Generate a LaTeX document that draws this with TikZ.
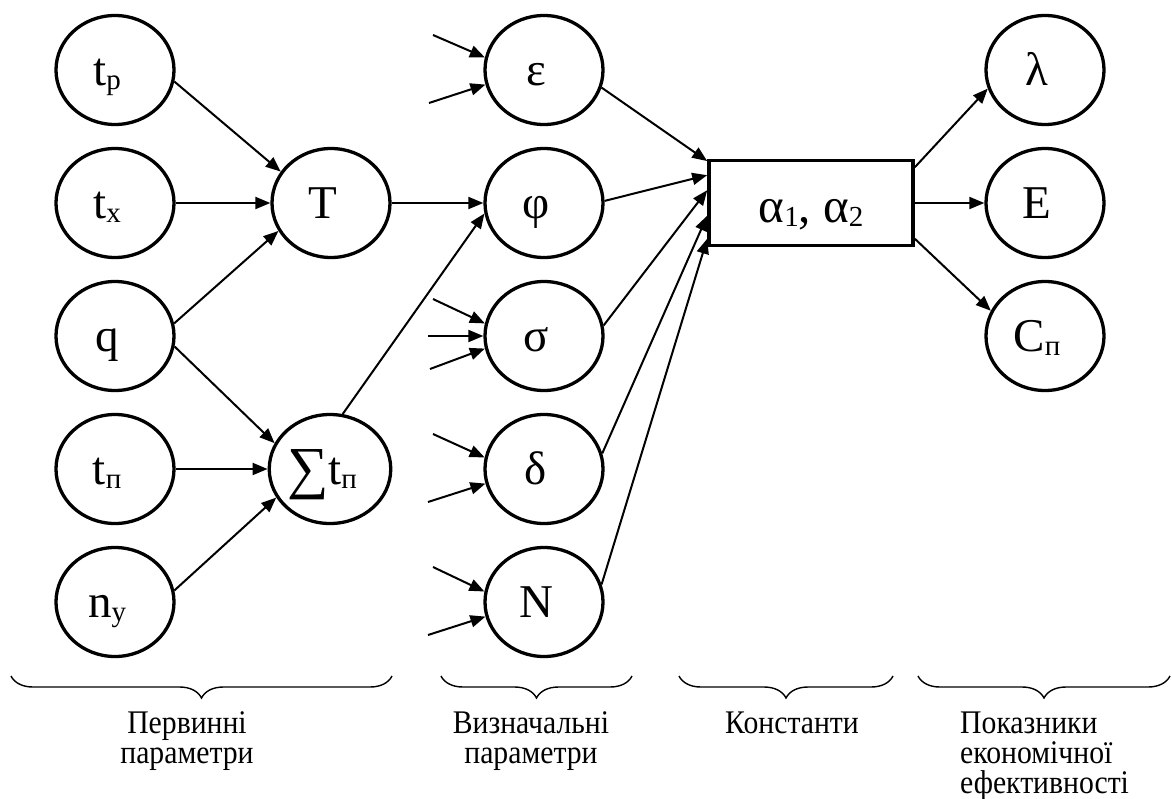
\documentclass[tikz,border=0pt]{standalone}
\usepackage{fontspec}
\setmainfont{Liberation Serif}
\newfontfamily\lblfont{Liberation Serif}[FakeStretch=0.9]
\usetikzlibrary{shapes.geometric,arrows.meta,decorations.pathreplacing}
\newcommand{\sub}[1]{\raisebox{-4pt}{\fontsize{29}{29}\selectfont #1}}
\newcommand{\bigsum}{\raisebox{-3pt}{\fontsize{58}{58}\selectfont ∑}}
\tikzset{
  par/.style={ellipse, draw, line width=3.3pt, minimum width=118pt, minimum height=109pt, inner sep=0pt,
    font=\fontsize{47}{50}\selectfont, text height=34pt, text depth=4pt, execute at end node={\hspace*{16pt}}},
  box/.style={rectangle, draw, line width=3.6pt, minimum width=204pt, minimum height=85pt, inner sep=0pt,
    font=\fontsize{49}{50}\selectfont, text height=44pt, text depth=6pt},
  arr/.style={line width=2pt, -{Triangle[length=15pt,width=12pt]}},
  brc/.style={decorate, decoration={brace, mirror, amplitude=22pt}, line width=1.4pt},
  lbl/.style={font={\lblfont\fontsize{33}{30}\selectfont}, inner sep=0pt, align=center, anchor=base}
}
\begin{document}
\begin{tikzpicture}[x=1pt, y=-1pt]
\useasboundingbox (0,0) rectangle (1172,798);
\node[par] (tr) at (115,70) {t\sub{р}};
\node[par] (tx) at (115,203) {t\sub{х}};
\node[par] (q) at (115,336) {q};
\node[par] (tp) at (115,469) {t\sub{п}};
\node[par] (ny) at (115,602) {n\sub{у}};
\node[par] (T) at (331,203) {T};
\node[par] (St) at (330,469) {\bigsum t\sub{п}};
\node[par] (eps) at (544,70) {ε};
\node[par] (phi) at (544,203) {φ};
\node[par] (sig) at (544,336) {σ};
\node[par] (del) at (544,469) {δ};
\node[par] (N) at (544,602) {N};
\node[box] (alpha) at (811,203) {α\sub{1}, α\sub{2}};
\node[par] (lam) at (1045,70) {λ};
\node[par] (E) at (1045,203) {E};
\node[par] (Cp) at (1045,336) {C\sub{п}};
\draw[arr] (tr.-11) -- (T.148);
\draw[arr] (tx) -- (T);
\draw[arr] (q.12) -- (T.208);
\draw[arr] (q.-10) -- (St.155);
\draw[arr] (tp) -- (St);
\draw[arr] (ny.11) -- (St.208);
\draw[arr] (T) -- (phi);
\draw[arr] (St.77) -- (phi.190);
\draw[arr] (eps.-17) -- (alpha.158);
\draw[arr] (phi.2) -- (alpha.165);
\draw[arr] (sig.10) -- (alpha.173);
\draw[arr] (del.15) -- (alpha.187);
\draw[arr] (N.17) -- (alpha.199);
\draw[arr] (alpha.19) -- (lam.198);
\draw[arr] (alpha) -- (E);
\draw[arr] (alpha.-19) -- (Cp.155);
\coordinate (eps1) at (433,35);
\coordinate (eps2) at (429,103);
\coordinate (sig1) at (433,299);
\coordinate (sig2) at (428,336);
\coordinate (sig3) at (430,369);
\coordinate (del1) at (433,434);
\coordinate (del2) at (428,502);
\coordinate (N1) at (433,567);
\coordinate (N2) at (428,635);
\draw[arr] (eps1) -- (eps.168);
\draw[arr] (eps2) -- (eps.194);
\draw[arr] (sig1) -- (sig.168);
\draw[arr] (sig2) -- (sig);
\draw[arr] (sig3) -- (sig.192);
\draw[arr] (del1) -- (del.169);
\draw[arr] (del2) -- (del.194);
\draw[arr] (N1) -- (N.170);
\draw[arr] (N2) -- (N.194);
\draw[brc] (11,676) -- (392,676);
\draw[brc] (441,676) -- (632,676);
\draw[brc] (679,676) -- (893,676);
\draw[brc] (918,676) -- (1170,676);
\node[lbl] (prim) at (187,763) {Первинні\\параметри};
\node[lbl] (defn) at (531,763) {Визначальні\\параметри};
\node[lbl] (const) at (792,733) {Константи};
\node[lbl, anchor=base west, align=left] (econ) at (960,793) {Показники\\економічної\\ефективності};
\end{tikzpicture}
\end{document}
